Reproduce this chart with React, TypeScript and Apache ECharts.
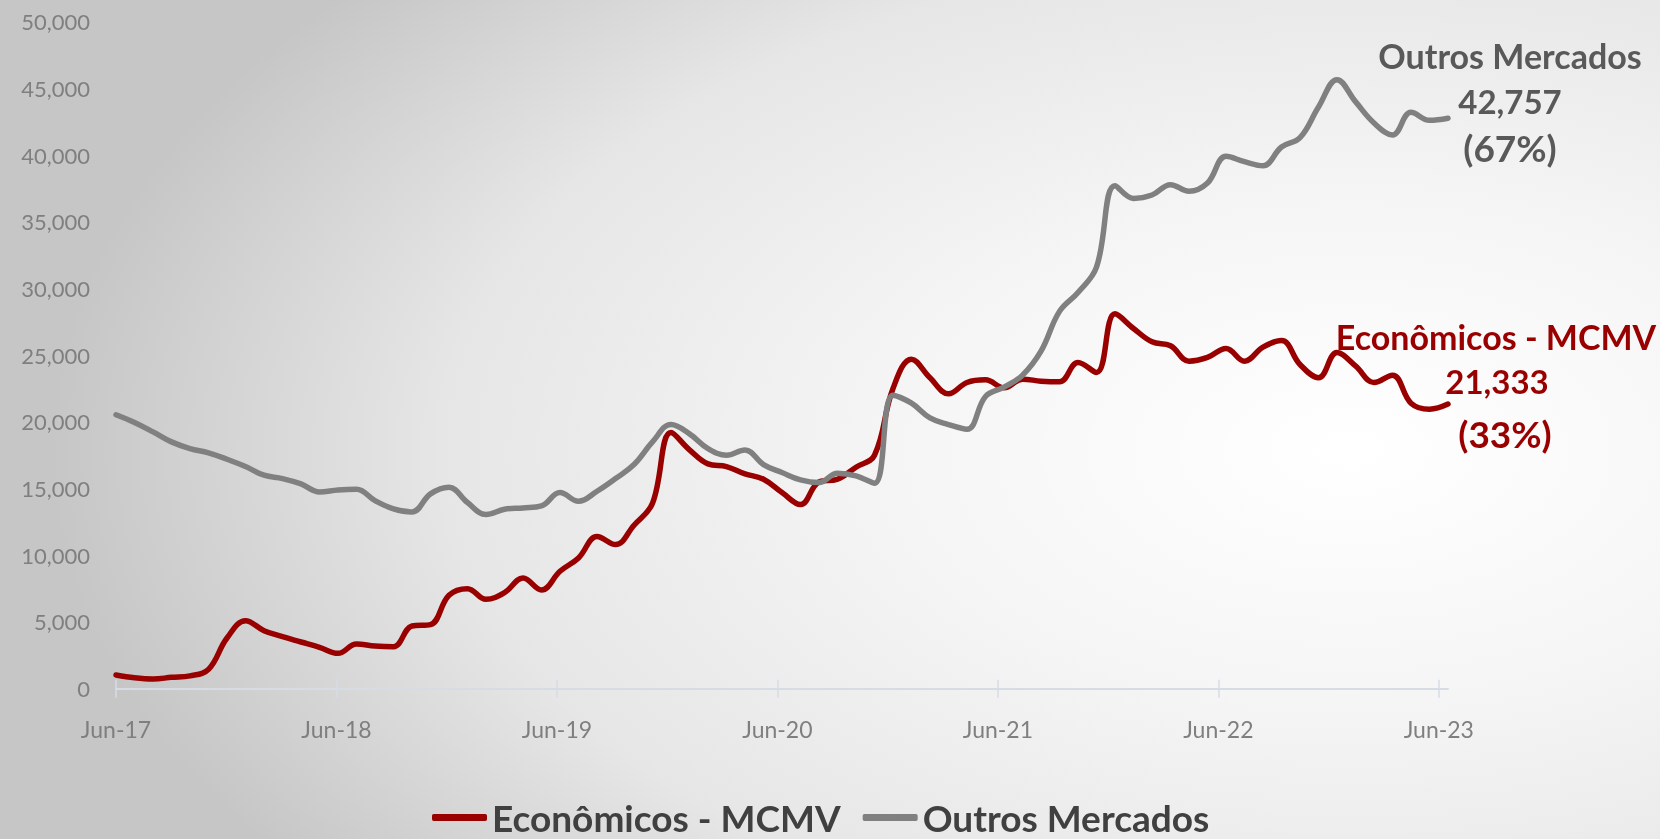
import React, { useEffect, useRef } from "react";
import * as echarts from "echarts";

// Monthly categories, Jun-17 .. Jun-23
const months: string[] = [
  "Jun-17", "Jul-17", "Aug-17", "Sep-17", "Oct-17", "Nov-17", "Dec-17",
  "Jan-18", "Feb-18", "Mar-18", "Apr-18", "May-18", "Jun-18", "Jul-18", "Aug-18", "Sep-18", "Oct-18", "Nov-18", "Dec-18",
  "Jan-19", "Feb-19", "Mar-19", "Apr-19", "May-19", "Jun-19", "Jul-19", "Aug-19", "Sep-19", "Oct-19", "Nov-19", "Dec-19",
  "Jan-20", "Feb-20", "Mar-20", "Apr-20", "May-20", "Jun-20", "Jul-20", "Aug-20", "Sep-20", "Oct-20", "Nov-20", "Dec-20",
  "Jan-21", "Feb-21", "Mar-21", "Apr-21", "May-21", "Jun-21", "Jul-21", "Aug-21", "Sep-21", "Oct-21", "Nov-21", "Dec-21",
  "Jan-22", "Feb-22", "Mar-22", "Apr-22", "May-22", "Jun-22", "Jul-22", "Aug-22", "Sep-22", "Oct-22", "Nov-22", "Dec-22",
  "Jan-23", "Feb-23", "Mar-23", "Apr-23", "May-23", "Jun-23",
];

const tickLabels: string[] = ["Jun-17", "Jun-18", "Jun-19", "Jun-20", "Jun-21", "Jun-22", "Jun-23"];

const economicos: number[] = [
  1030, 820, 730, 850, 960, 1450, 3800, 5100, 4350, 3900,
  3500, 3100, 2650, 3350, 3200, 3150, 4700, 4800, 7000, 7500,
  6700, 7200, 8300, 7400, 8800, 9800, 11400, 10800, 12250, 13900,
  19200, 17900, 16850, 16650, 16100, 15700, 14700, 13800, 15500, 15700,
  16600, 17500, 22500, 24700, 23300, 22100, 22950, 23150, 22550, 23200,
  23050, 23000, 24450, 23700, 28100, 27000, 26000, 25700, 24550, 24830,
  25500, 24550, 25600, 26100, 24300, 23300, 25200, 24200, 22950, 23500,
  21400, 20950, 21333,
];

const outros: number[] = [
  20530, 19950, 19250, 18500, 18000, 17680, 17200, 16650, 16000, 15750,
  15350, 14750, 14900, 14950, 14100, 13480, 13250, 14600, 15100, 13950,
  13050, 13450, 13550, 13700, 14700, 14050, 14800, 15750, 16800, 18500,
  19800, 19100, 18000, 17500, 17900, 16800, 16200, 15650, 15450, 16150,
  15950, 15400, 22000, 21400, 20300, 19800, 19450, 21900, 22600, 23500,
  25300, 28280, 29700, 31600, 37700, 36750, 37000, 37780, 37280, 37900,
  39900, 39500, 39200, 40600, 41300, 43600, 45650, 44000, 42400, 41500,
  43200, 42600, 42757,
];

const seriesNames: string[] = ["Econômicos - MCMV", "Outros Mercados"];

const Y_MAX = 50000;
const Y_STEP = 5000;
const MONTHS_PER_TICK = 12;

const RED = "#990000";
const GRAY = "#808080";
const AXIS_GRAY = "#7f7f7f";
const FONT = "Lato";

export default function App() {
  const ref = useRef<HTMLDivElement>(null);

  useEffect(() => {
    if (!ref.current) return;
    const chart = echarts.init(ref.current, null, { renderer: "svg" });

    const lastE = economicos[economicos.length - 1];
    const lastO = outros[outros.length - 1];
    const total = lastE + lastO;
    const fmt = (v: number) => v.toLocaleString("en-US");
    const pct = (v: number) => `(${Math.round((v / total) * 100)}%)`;
    const tickPositions = tickLabels.map((_, k) => k * MONTHS_PER_TICK);

    const label = (text: string, x: number, y: number, size: number, color: string) => ({
      type: "text",
      x,
      y,
      z: 10,
      style: {
        text,
        fill: color,
        fontSize: size,
        fontWeight: "bold",
        fontFamily: FONT,
        textAlign: "center",
        textVerticalAlign: "middle",
      },
    });

    const tickAxisBase = {
      type: "value",
      min: 0,
      max: 72.5,
      position: "bottom",
      splitLine: { show: false },
    };

    chart.setOption({
      animation: false,
      backgroundColor: "transparent",
      textStyle: { fontFamily: FONT },
      grid: { left: 116, right: 212, top: 21.6, bottom: 150.3, containLabel: false },
      xAxis: [
        {
          type: "category",
          data: months,
          boundaryGap: false,
          show: false,
        },
        {
          ...tickAxisBase,
          axisLine: { show: true, onZero: false, lineStyle: { color: "#d5dce3", width: 2 } },
          axisTick: {
            show: true,
            customValues: tickPositions,
            length: 9,
            lineStyle: { color: "#d5dce3", width: 1.5 },
          },
          axisLabel: {
            customValues: tickPositions,
            formatter: (v: number) =>
              v % MONTHS_PER_TICK === 0 ? tickLabels[Math.round(v / MONTHS_PER_TICK)] ?? "" : "",
            color: AXIS_GRAY,
            fontSize: 23,
            fontFamily: FONT,
            margin: 29,
          },
        },
        {
          ...tickAxisBase,
          axisLine: { show: false, onZero: false },
          axisTick: {
            show: true,
            inside: true,
            customValues: tickPositions,
            length: 9,
            lineStyle: { color: "#d5dce3", width: 1.5 },
          },
          axisLabel: { show: false },
        },
      ],
      yAxis: {
        type: "value",
        min: 0,
        max: Y_MAX,
        interval: Y_STEP,
        axisLine: { show: false },
        axisTick: { show: false },
        splitLine: { show: false },
        axisLabel: {
          formatter: (v: number) => fmt(v),
          color: AXIS_GRAY,
          fontSize: 22,
          fontFamily: FONT,
          margin: 26,
        },
      },
      legend: {
        data: seriesNames,
        left: 432,
        top: 799,
        padding: 0,
        icon: "roundRect",
        itemWidth: 55,
        itemHeight: 7,
        itemGap: 22,
        textStyle: { fontFamily: FONT, fontWeight: "bold", fontSize: 37, color: "#404040" },
      },
      series: [
        {
          name: seriesNames[0],
          type: "line",
          xAxisIndex: 0,
          data: economicos,
          smooth: 0.4,
          symbol: "none",
          color: RED,
          lineStyle: { color: RED, width: 5.5, cap: "round", join: "round" },
        },
        {
          name: seriesNames[1],
          type: "line",
          xAxisIndex: 0,
          data: outros,
          smooth: 0.4,
          symbol: "none",
          color: GRAY,
          lineStyle: { color: GRAY, width: 5.5, cap: "round", join: "round" },
        },
      ],
      graphic: [
        label(seriesNames[1], 1510, 55, 34, "#595959"),
        label(fmt(lastO), 1510, 101, 33, "#595959"),
        label(pct(lastO), 1510, 147, 37, "#595959"),
        label(seriesNames[0], 1496, 336, 34, RED),
        label(fmt(lastE), 1497, 381, 33, RED),
        label(pct(lastE), 1505, 433, 37, RED),
      ],
    });

    return () => chart.dispose();
  }, []);

  return (
    <div
      style={{
        position: "fixed",
        left: 0,
        top: 0,
        width: 1660,
        height: 839,
        overflow: "hidden",
        background:
          "radial-gradient(ellipse 1300px 720px at 1350px 450px, #ffffff 0%, #f5f5f5 35%, #e6e6e6 70%, #c6c6c6 100%)",
      }}
    >
      <div ref={ref} style={{ width: 1660, height: 839 }} />
    </div>
  );
}
